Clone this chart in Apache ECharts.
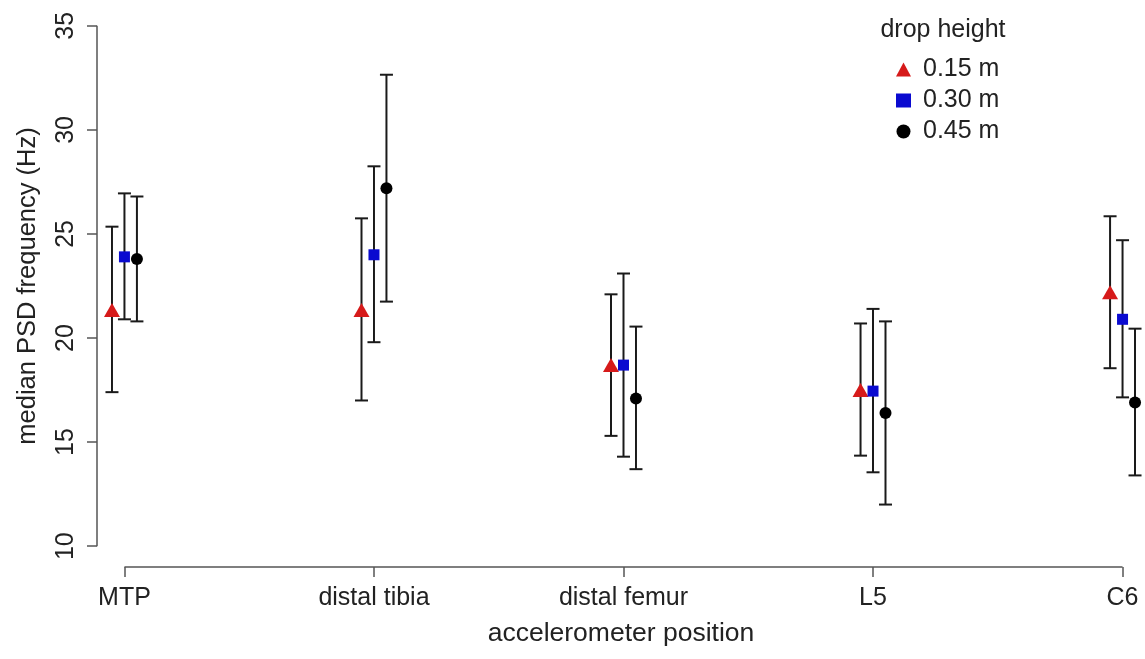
<!DOCTYPE html>
<html>
<head>
<meta charset="utf-8">
<script src="https://cdn.jsdelivr.net/npm/echarts@6/dist/echarts.min.js"></script>
<style>
  html, body { margin: 0; padding: 0; background: #fff; }
  #chart { width: 1145px; height: 659px; }
</style>
</head>
<body>
<div id="chart"></div>
<script>
const categories = ["MTP", "distal tibia", "distal femur", "L5", "C6"];
const heights = ["0.15 m", "0.30 m", "0.45 m"];

// median and error bar ends, one array per drop height
const median15 = [21.35, 21.35, 18.7, 17.5, 22.2];
const low15 = [17.4, 17.0, 15.3, 14.35, 18.55];
const high15 = [25.35, 25.75, 22.1, 20.7, 25.85];

const median30 = [23.9, 24.0, 18.7, 17.45, 20.9];
const low30 = [20.9, 19.8, 14.3, 13.55, 17.15];
const high30 = [26.95, 28.25, 23.1, 21.4, 24.7];

const median45 = [23.8, 27.2, 17.1, 16.4, 16.9];
const low45 = [20.8, 21.75, 13.7, 12.0, 13.4];
const high45 = [26.8, 32.65, 20.55, 20.8, 20.45];

const yTicks = [10, 15, 20, 25, 30, 35];

const groups = [
  { name: heights[0], mid: median15, lo: low15, hi: high15, dodge: -0.05, symbol: "triangle", size: [16, 14], color: "#d61a1a" },
  { name: heights[1], mid: median30, lo: low30, hi: high30, dodge: 0, symbol: "rect", size: 11, color: "#0a0ad0" },
  { name: heights[2], mid: median45, lo: low45, hi: high45, dodge: 0.05, symbol: "circle", size: 12, color: "#000" },
];

const FONT = "Liberation Sans, Arial, Helvetica, sans-serif";
const TEXT = "#222";
const AXIS = "#555";
const X_MIN = -0.11, X_MAX = 4.09, Y_MIN = 9, Y_MAX = 36;

function errorBar(params, api) {
  const x = api.value(0);
  const a = api.coord([x, api.value(1)]);
  const b = api.coord([x, api.value(2)]);
  const w = 6.5;
  const st = { stroke: "#1a1a1a", lineWidth: 2 };
  return {
    type: "group",
    children: [
      { type: "line", shape: { x1: a[0], y1: a[1], x2: b[0], y2: b[1] }, style: st },
      { type: "line", shape: { x1: a[0] - w, y1: a[1], x2: a[0] + w, y2: a[1] }, style: st },
      { type: "line", shape: { x1: b[0] - w, y1: b[1], x2: b[0] + w, y2: b[1] }, style: st },
    ],
  };
}

const series = [];
groups.forEach((g) => {
  series.push({
    type: "custom",
    name: g.name + " bars",
    renderItem: errorBar,
    encode: { x: 0, y: [1, 2] },
    data: categories.map((c, i) => [i + g.dodge, g.lo[i], g.hi[i]]),
    z: 2,
    silent: true,
  });
});
groups.forEach((g) => {
  series.push({
    type: "scatter",
    name: g.name,
    symbol: g.symbol,
    symbolSize: g.size,
    itemStyle: { color: g.color, opacity: 1 },
    data: categories.map((c, i) => [i + g.dodge, g.mid[i]]),
    z: 5,
  });
});

// axis lines in R style: only across the tick range
series.push({
  type: "line",
  name: "yline",
  symbol: "none",
  silent: true,
  clip: false,
  lineStyle: { color: AXIS, width: 1.5 },
  data: [[X_MIN, yTicks[0]], [X_MIN, yTicks[yTicks.length - 1]]],
});
series.push({
  type: "line",
  name: "xline",
  symbol: "none",
  silent: true,
  clip: false,
  lineStyle: { color: AXIS, width: 1.5 },
  data: [[0, Y_MIN], [categories.length - 1, Y_MIN]],
});

const chart = echarts.init(document.getElementById("chart"));
chart.setOption({
  animation: false,
  backgroundColor: "#fff",
  textStyle: { fontFamily: FONT },
  grid: { left: 97, right: 1145 - 97 - 1048, top: 5, bottom: 92 },
  title: {
    text: "drop height",
    left: 938,
    top: 13,
    textAlign: "center",
    textStyle: { fontFamily: FONT, fontSize: 25, fontWeight: "normal", color: TEXT },
  },
  legend: {
    orient: "vertical",
    left: 891,
    top: 52,
    itemWidth: 15,
    itemHeight: 14,
    itemGap: 6,
    textStyle: { fontFamily: FONT, fontSize: 25, color: TEXT, padding: [0, 0, 0, 7] },
    data: groups.map((g) => ({ name: g.name, icon: g.symbol })),
  },
  xAxis: {
    type: "value",
    min: X_MIN,
    max: X_MAX,
    splitLine: { show: false },
    axisLine: { show: false, onZero: false },
    axisTick: {
      show: true,
      length: 10,
      customValues: categories.map((c, i) => i),
      lineStyle: { color: AXIS, width: 1.5 },
    },
    axisLabel: {
      customValues: categories.map((c, i) => i),
      formatter: (v) => categories[Math.round(v)],
      fontSize: 25,
      color: TEXT,
      margin: 19,
      fontFamily: FONT,
    },
    name: "accelerometer position",
    nameLocation: "middle",
    nameGap: 53,
    nameTextStyle: { fontSize: 26.5, color: TEXT, fontFamily: FONT },
  },
  yAxis: {
    type: "value",
    min: Y_MIN,
    max: Y_MAX,
    splitLine: { show: false },
    axisLine: { show: false, onZero: false },
    axisTick: {
      show: true,
      length: 10,
      customValues: yTicks,
      lineStyle: { color: AXIS, width: 1.5 },
    },
    axisLabel: {
      customValues: yTicks,
      rotate: 90,
      fontSize: 25,
      color: TEXT,
      margin: 18,
      fontFamily: FONT,
    },
    name: "median PSD frequency (Hz)",
    nameLocation: "middle",
    nameRotate: 90,
    nameGap: 56,
    nameTextStyle: { fontSize: 25.5, color: TEXT, fontFamily: FONT },
  },
  series: series,
});
</script>
</body>
</html>
